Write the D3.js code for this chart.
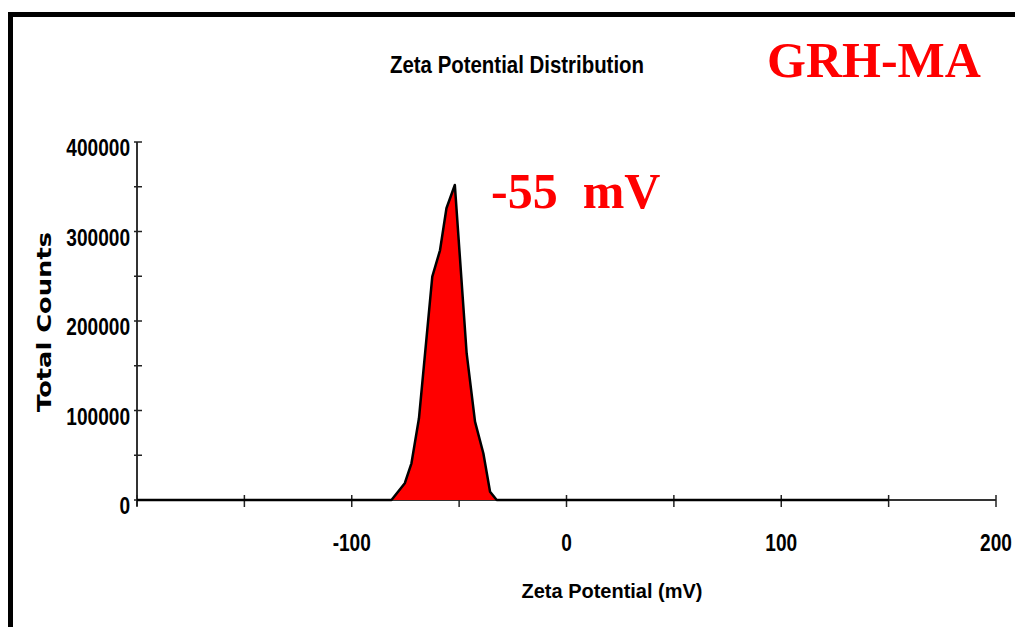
<!DOCTYPE html>
<html>
<head>
<meta charset="utf-8">
<script src="https://cdn.jsdelivr.net/npm/d3@7"></script>
<style>
  body { margin: 0; background: #fff; }
  svg { display: block; }
  .lbl { font-family: "Liberation Sans", Arial, sans-serif; font-weight: bold; fill: #000; }
</style>
</head>
<body>
<div id="app"></div>
<script>
// zeta potential distribution data
const potential = [-200, -81.5, -75.3, -72.2, -68.7, -62.5, -58.9, -55.9, -52, -46.5, -42.6, -38.7, -35.6, -32.5, 150];
const counts = [0, 0, 18700, 41000, 91300, 249500, 279000, 326000, 352000, 164000, 87500, 52000, 9300, 0, 0];

const xTickValues = [-100, 0, 100, 200];
const xMinorTicks = [-200, -150, -50, 50, 150];
const yTickValues = [0, 100000, 200000, 300000, 400000];
const yMinorTicks = [50000, 150000, 250000, 350000];

const W = 1015, H = 627;
const squeeze = 0.83; // tick labels are a condensed bold face

const svg = d3.select("#app")
  .append("svg")
  .attr("width", W)
  .attr("height", H);

// frame
svg.append("rect")
  .attr("x", 10.5).attr("y", 14.5)
  .attr("width", W + 20).attr("height", H + 20)
  .attr("fill", "none")
  .attr("stroke", "#000")
  .attr("stroke-width", 5);

let xScale = d3.scaleLinear()
  .domain([-200, 200])
  .range([137, 996]);

let yScale = d3.scaleLinear()
  .domain([0, 400000])
  .range([500, 142]);

const data = potential.map((p, i) => [p, counts[i]]);

// axes lines
svg.append("line")
  .attr("x1", xScale(-200)).attr("x2", xScale(200))
  .attr("y1", yScale(0)).attr("y2", yScale(0))
  .attr("stroke", "#333").attr("stroke-width", 2);

svg.append("line")
  .attr("x1", xScale(-200)).attr("x2", xScale(-200))
  .attr("y1", yScale(0) + 6).attr("y2", yScale(400000))
  .attr("stroke", "#333").attr("stroke-width", 2);

// x ticks
svg.selectAll(".xtick")
  .data(xTickValues.concat(xMinorTicks))
  .enter()
  .append("line")
  .attr("x1", d => xScale(d)).attr("x2", d => xScale(d))
  .attr("y1", yScale(0) - 5).attr("y2", yScale(0) + 7)
  .attr("stroke", "#222").attr("stroke-width", 1.5);

svg.selectAll(".xlabel")
  .data(xTickValues)
  .enter()
  .append("text")
  .attr("class", "lbl")
  .attr("transform", d => `translate(${xScale(d)},551) scale(${squeeze},1)`)
  .attr("text-anchor", "middle")
  .style("font-size", "23px")
  .text(d => d);

// y ticks
svg.selectAll(".ytick")
  .data(yTickValues.concat(yMinorTicks))
  .enter()
  .append("line")
  .attr("x1", xScale(-200) - 3).attr("x2", xScale(-200) + 5)
  .attr("y1", d => yScale(d)).attr("y2", d => yScale(d))
  .attr("stroke", "#222").attr("stroke-width", 1.5);

svg.selectAll(".ylabel")
  .data(yTickValues)
  .enter()
  .append("text")
  .attr("class", "lbl")
  .attr("transform", d => `translate(130,${yScale(d) + 14}) scale(${squeeze},1)`)
  .attr("text-anchor", "end")
  .style("font-size", "23px")
  .text(d => d);

// distribution area
const area = d3.area()
  .x(d => xScale(d[0]))
  .y0(yScale(0))
  .y1(d => yScale(d[1]));

svg.append("path")
  .datum(data)
  .attr("d", area)
  .attr("fill", "#ff0000");

const line = d3.line()
  .x(d => xScale(d[0]))
  .y(d => yScale(d[1]));

svg.append("path")
  .datum(data)
  .attr("d", line)
  .attr("fill", "none")
  .attr("stroke", "#000")
  .attr("stroke-width", 2.5)
  .attr("stroke-linejoin", "round");

// titles
svg.append("text")
  .attr("x", 517).attr("y", 73)
  .attr("text-anchor", "middle")
  .attr("class", "lbl")
  .style("font-size", "23px")
  .attr("textLength", 254)
  .attr("lengthAdjust", "spacingAndGlyphs")
  .text("Zeta Potential Distribution");

svg.append("text")
  .attr("x", 612).attr("y", 598)
  .attr("text-anchor", "middle")
  .attr("class", "lbl")
  .style("font-size", "21px")
  .attr("textLength", 181)
  .attr("lengthAdjust", "spacingAndGlyphs")
  .text("Zeta Potential (mV)");

svg.append("text")
  .attr("transform", "translate(51,322) rotate(-90)")
  .attr("text-anchor", "middle")
  .style("font-family", "DejaVu Sans, sans-serif")
  .style("font-weight", "bold")
  .style("font-size", "20px")
  .attr("textLength", 180)
  .attr("lengthAdjust", "spacingAndGlyphs")
  .text("Total Counts");

// annotations
svg.append("text")
  .attr("x", 767).attr("y", 77)
  .style("font-family", "Liberation Serif, Times New Roman, serif")
  .style("font-weight", "bold")
  .style("font-size", "50px")
  .attr("fill", "#ff0000")
  .text("GRH-MA");

svg.append("text")
  .attr("x", 491).attr("y", 208)
  .style("font-family", "Liberation Serif, Times New Roman, serif")
  .style("font-weight", "bold")
  .style("font-size", "50px")
  .style("white-space", "pre")
  .attr("fill", "#ff0000")
  .text("-55  mV");
</script>
</body>
</html>
